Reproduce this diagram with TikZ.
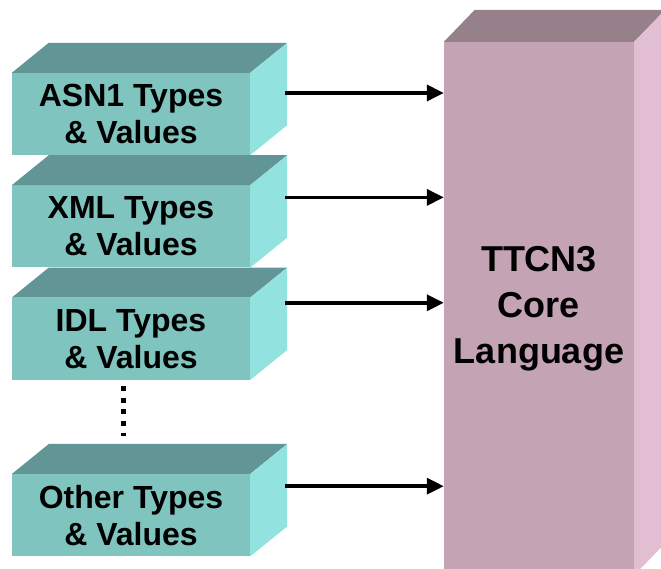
\documentclass[tikz,border=0pt]{standalone}
\usepackage{fontspec}
\setmainfont{Liberation Sans}
\usetikzlibrary{arrows.meta,positioning,calc}
\def\boxwidth{238pt}
\def\boxheight{82pt}
\def\boxsep{30pt}
\def\depthx{37}
\def\depthy{30}
\def\corex{31}
\def\corey{32}
\definecolor{tealfront}{HTML}{80C4C0}
\definecolor{tealtop}{HTML}{629595}
\definecolor{tealside}{HTML}{92E2E0}
\definecolor{mauvefront}{HTML}{C4A4B4}
\definecolor{mauvetop}{HTML}{968089}
\definecolor{mauveside}{HTML}{E2BED2}

\begin{document}
\begin{tikzpicture}[x=1pt,y=1pt, myarrow/.style={-{Triangle[length=17pt,width=16pt]},line width=3.5pt}]
    \tikzstyle{typebox}=[rectangle,fill=tealfront,minimum width=\boxwidth,minimum height=\boxheight,inner sep=0pt,align=center,font=\bfseries\fontsize{32}{37}\selectfont,node distance=\boxsep]
    \tikzstyle{corebox}=[rectangle,fill=mauvefront,minimum width=190pt,minimum height=533pt,inner sep=0pt,align=center,font=\bfseries\fontsize{36}{46}\selectfont]
    \tikzstyle{dotline}=[line width=5pt,dash pattern=on 5pt off 6.7pt]

    \useasboundingbox (0,0) rectangle (661,569);
    \clip (0,0) rectangle (661,569);

    % Draw the nodes
    \node[typebox] (asn) at (131,455) {ASN1 Types\\\& Values};
    \node[typebox, below=of asn] (xml) {XML Types\\\& Values};
    \node[typebox, below=of xml] (idl) {IDL Types\\\& Values};
    \node[typebox, below=94pt of idl] (oth) {Other Types\\\& Values};

    \node[corebox] (core) at (539,260.5) {TTCN3\\Core\\Language};

    % Top and side faces
    \foreach \name in {asn,xml,idl,oth} {
        \fill[tealtop] (\name.north west) -- ++(\depthx,\depthy) -- ($(\name.north east)+(\depthx,\depthy)$) -- (\name.north east) -- cycle;
        \fill[tealside] (\name.north east) -- ++(\depthx,\depthy) -- ($(\name.south east)+(\depthx,\depthy)$) -- (\name.south east) -- cycle;
    }
    \fill[mauvetop] (core.north west) -- ++(\corex,\corey) -- ($(core.north east)+(\corex,\corey)$) -- (core.north east) -- cycle;
    \fill[mauveside] (core.north east) -- ++(\corex,\corey) -- ($(core.south east)+(\corex,\corey)$) -- (core.south east) -- cycle;

    % Connect the boxes
    \foreach \name/\shift in {asn/-9,xml/-1,idl/6,oth/-1} {
        \coordinate (\name-out) at ($(\name.east)+(\depthx-2,\depthy+\shift)$);
        \draw[myarrow] (\name-out) -- (\name-out -| core.west);
    }

    \draw[dotline] ([xshift=-8pt,yshift=-6pt]idl.south) -- ([xshift=-8pt,yshift=38pt]oth.north);
\end{tikzpicture}
\end{document}
